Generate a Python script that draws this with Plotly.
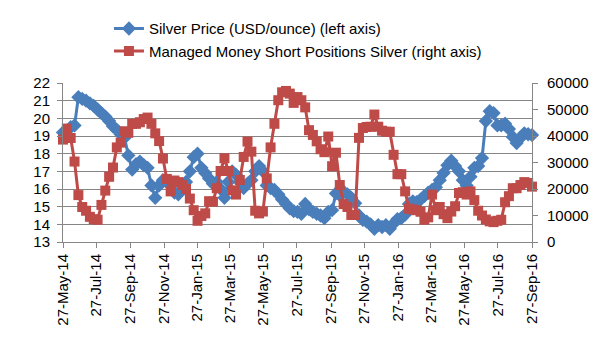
import pandas as pd
import plotly.graph_objects as go

start_date = "2014-05-27"

silver_price = [
    19.2, 19.3, 19.5, 19.6, 21.2, 21.1, 21.0, 20.85, 20.7, 20.5,
    20.3, 20.1, 19.85, 19.55, 19.35, 19.1, 18.9, 17.9, 17.1, 17.4,
    17.55, 17.35, 17.2, 16.2, 15.5, 16.2, 16.5, 16.4, 16.2, 15.8,
    15.7, 16.0, 16.4, 17.0, 17.8, 18.0, 17.2, 16.9, 16.6, 16.3,
    16.4, 16.0, 15.5, 16.4, 17.0, 16.8, 16.4, 16.05, 16.3, 16.5,
    17.0, 17.3, 17.0, 16.2, 16.05, 15.95, 15.7, 15.4, 15.15, 14.9,
    14.75, 14.7, 14.6, 15.15, 14.85, 14.7, 14.6, 14.5, 14.35, 14.7,
    14.8, 15.75, 15.65, 15.85, 15.7, 15.5, 15.2, 14.5, 14.25, 14.15,
    14.0, 13.75, 13.95, 13.85, 13.95, 13.75, 14.05, 14.3, 14.35, 14.55,
    15.15, 15.3, 15.25, 15.4, 15.6, 15.8, 15.95, 16.1, 16.5, 16.9,
    17.35, 17.6, 17.3, 17.0, 16.5, 16.2, 16.7, 17.2, 17.3, 17.75,
    19.85, 20.4, 20.3, 19.6, 19.6, 19.7, 19.4, 18.95, 18.6, 18.9,
    19.15, 19.1, 19.05,
]

short_positions = [
    38650, 42800, 39250, 30360, 17700, 13200, 11800, 9500, 8600, 8400,
    14000, 19400, 24600, 28100, 35700, 37500, 41800, 41200, 44600, 44600,
    45200, 46400, 46950, 44600, 41000, 38100, 31500, 23800, 19100, 23200,
    22600, 21500, 20000, 16400, 12000, 8000, 9800, 10800, 15400, 15200,
    20300, 26800, 31600, 26800, 19500, 17900, 23400, 32100, 37900, 34100,
    11800, 10800, 11500, 24000, 35700, 44600, 53500, 56500, 57000, 56000,
    52500, 54700, 53500, 50800, 42200, 40400, 38000, 35000, 33900, 39800,
    28600, 33700, 21500, 14300, 13200, 10200, 10200, 39300, 43000, 43400,
    43500, 48100, 43500, 42000, 41600, 41600, 32900, 25600, 25600, 19100,
    12600, 12300, 12000, 11400, 8400, 9300, 17900, 12000, 13200, 10500,
    9000, 11500, 13500, 18500, 18800, 17900, 19100, 15800, 11800, 10000,
    8500, 7800, 7500, 8000, 8400, 15000, 17300, 20300, 20300, 21500,
    22600, 22300, 20900,
]

x_tick_labels = [
    "27-May-14", "27-Jul-14", "27-Sep-14", "27-Nov-14", "27-Jan-15",
    "27-Mar-15", "27-May-15", "27-Jul-15", "27-Sep-15", "27-Nov-15",
    "27-Jan-16", "27-Mar-16", "27-May-16", "27-Jul-16", "27-Sep-16",
]

left_ticks = [13, 14, 15, 16, 17, 18, 19, 20, 21, 22]
right_ticks = [0, 10000, 20000, 30000, 40000, 50000, 60000]

dates = pd.date_range(start_date, periods=len(silver_price), freq="7D")
tick_dates = pd.to_datetime(x_tick_labels, format="%d-%b-%y")

FONT = "Liberation Sans, Arial, sans-serif"
AXIS_GRAY = "#868686"
BLUE = "#4A7EBB"
RED = "#BE4B48"

fig = go.Figure()
fig.add_trace(go.Scatter(
    x=dates, y=silver_price, name="Silver Price (USD/ounce) (left axis)",
    mode="lines+markers", yaxis="y",
    line=dict(color=BLUE, width=3),
    marker=dict(symbol="diamond", size=11, color=BLUE),
    cliponaxis=False,
))
fig.add_trace(go.Scatter(
    x=dates, y=short_positions, name="Managed Money Short Positions Silver (right axis)",
    mode="lines+markers", yaxis="y2",
    line=dict(color=RED, width=3),
    marker=dict(symbol="square", size=10, color=RED),
    cliponaxis=False,
))

fig.update_layout(
    width=602, height=338,
    margin=dict(l=63, r=70, t=77, b=93),
    paper_bgcolor="white", plot_bgcolor="white",
    font=dict(family=FONT, size=15, color="#000000"),
    showlegend=True,
    legend=dict(
        x=0.098, xanchor="left", y=1.445, yanchor="top",
        orientation="v", tracegroupgap=0,
        font=dict(family=FONT, size=15, color="#000000"),
        bgcolor="rgba(0,0,0,0)", itemwidth=30,
    ),
    xaxis=dict(
        type="date",
        range=[dates[0], tick_dates[-1]],
        tickvals=tick_dates, ticktext=x_tick_labels, tickangle=-90,
        showgrid=False, showline=True, linecolor=AXIS_GRAY, linewidth=1,
        ticks="outside", ticklen=5, tickcolor=AXIS_GRAY,
        tickfont=dict(family=FONT, size=15, color="#000000"),
        zeroline=False,
    ),
    yaxis=dict(
        range=[13, 22], tickvals=left_ticks,
        showgrid=True, gridcolor=AXIS_GRAY, gridwidth=1,
        showline=True, linecolor=AXIS_GRAY, linewidth=1,
        ticks="outside", ticklen=5, tickcolor=AXIS_GRAY,
        tickfont=dict(family=FONT, size=15, color="#000000"),
        ticklabelstandoff=4,
        zeroline=False,
    ),
    yaxis2=dict(
        range=[0, 60000], tickvals=right_ticks, tickformat="d",
        overlaying="y", side="right",
        showgrid=False, showline=True, linecolor=AXIS_GRAY, linewidth=1,
        ticks="outside", ticklen=5, tickcolor=AXIS_GRAY,
        tickfont=dict(family=FONT, size=15, color="#000000"),
        ticklabelstandoff=6,
        zeroline=False,
    ),
)

fig.write_html("out.html")
